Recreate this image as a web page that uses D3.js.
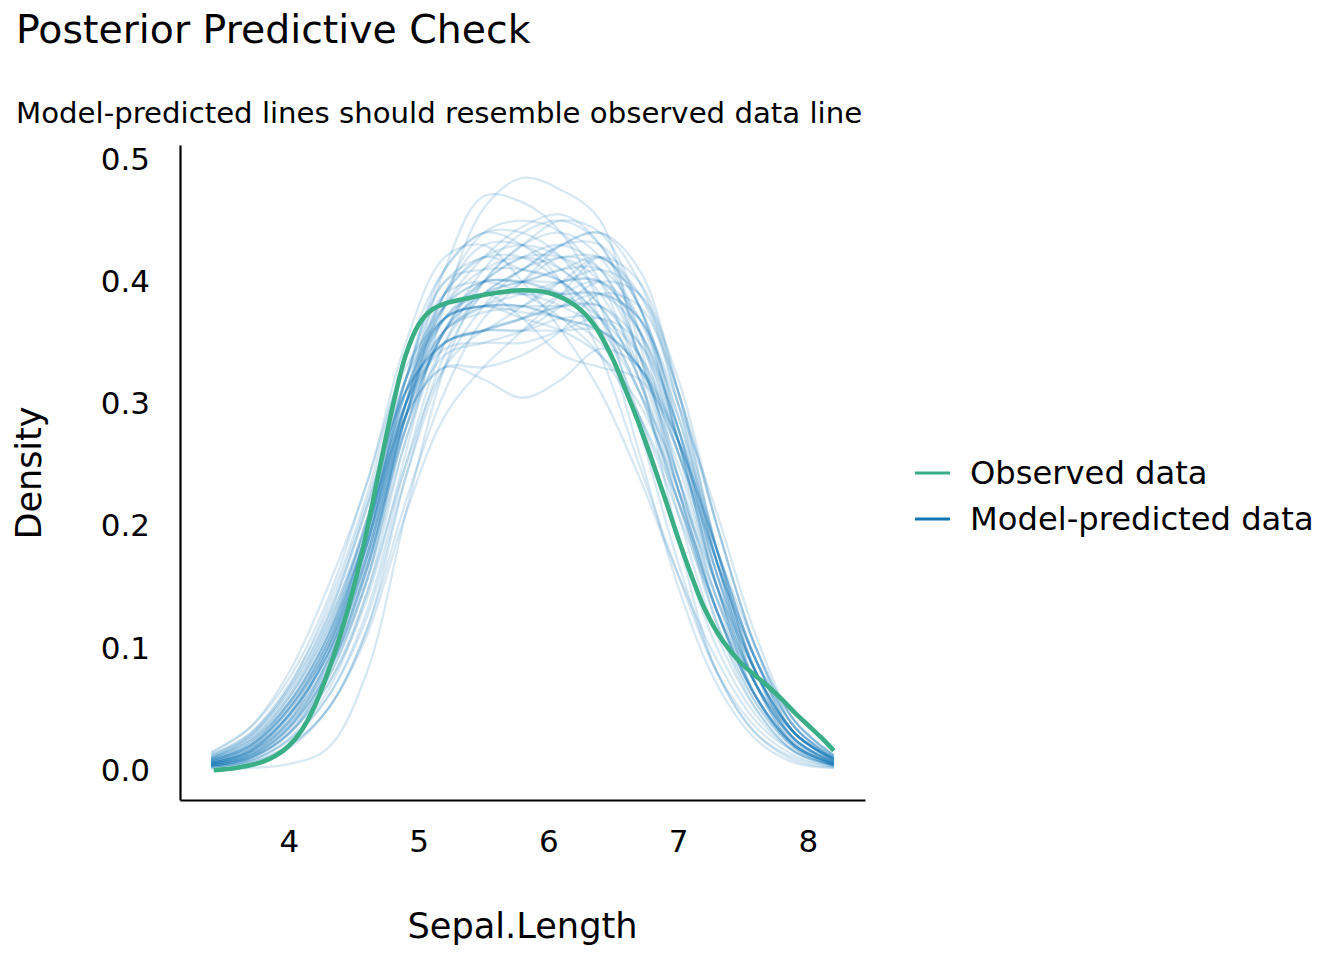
<!DOCTYPE html>
<html>
<head>
<meta charset="utf-8">
<script src="https://cdn.jsdelivr.net/npm/d3@7"></script>
<style>
  body { margin: 0; background: #fff; }
  text { font-family: "DejaVu Sans", sans-serif; fill: #000; }
</style>
</head>
<body>
<div id="chart"></div>
<script>
// x grid shared by every model-predicted density line
const gridX = [3.4, 3.7, 4.0, 4.3, 4.6, 4.9, 5.2, 5.5, 5.8, 6.1, 6.4, 6.7, 7.0, 7.3, 7.6, 7.9, 8.2];

const obsX = [3.42, 3.6, 3.8, 3.9, 4.0, 4.1, 4.2, 4.3, 4.4, 4.5, 4.6, 4.7, 4.8, 4.9, 5.0, 5.1, 5.2, 5.4, 5.6, 5.8, 6.0, 6.2, 6.35, 6.5, 6.6, 6.7, 6.8, 6.9, 7.0, 7.1, 7.2, 7.3, 7.4, 7.5, 7.6, 7.7, 7.8, 7.9, 8.0, 8.1, 8.2];
const obsY = [0.0, 0.002, 0.007, 0.012, 0.02, 0.033, 0.053, 0.08, 0.112, 0.15, 0.196, 0.248, 0.298, 0.34, 0.365, 0.377, 0.382, 0.387, 0.391, 0.393, 0.391, 0.381, 0.365, 0.336, 0.31, 0.283, 0.253, 0.222, 0.19, 0.16, 0.133, 0.113, 0.098, 0.086, 0.077, 0.068, 0.058, 0.047, 0.037, 0.027, 0.016];

// model-predicted densities, one row per draw
const predY = [
  [0.004,0.01,0.03,0.07,0.14,0.26,0.38,0.46,0.485,0.475,0.45,0.33,0.19,0.08,0.03,0.008,0.002],
  [0.004,0.01,0.03,0.08,0.16,0.3,0.41,0.47,0.465,0.44,0.38,0.28,0.17,0.08,0.03,0.01,0.003],
  [0.005,0.012,0.035,0.09,0.17,0.29,0.38,0.42,0.445,0.455,0.43,0.35,0.23,0.12,0.05,0.015,0.004],
  [0.006,0.015,0.04,0.10,0.185,0.30,0.36,0.375,0.38,0.40,0.42,0.38,0.28,0.16,0.07,0.025,0.007],
  [0.01,0.025,0.06,0.12,0.2,0.29,0.33,0.32,0.305,0.32,0.345,0.33,0.27,0.17,0.09,0.04,0.012],
  [0.008,0.02,0.055,0.11,0.195,0.31,0.37,0.38,0.38,0.37,0.36,0.33,0.27,0.18,0.10,0.04,0.012],
  [0.003,0.008,0.025,0.06,0.13,0.25,0.35,0.40,0.43,0.44,0.42,0.36,0.26,0.15,0.07,0.025,0.006],
  [0.012,0.03,0.07,0.13,0.22,0.32,0.37,0.38,0.37,0.36,0.34,0.30,0.23,0.15,0.08,0.03,0.01],
  [0.005,0.012,0.035,0.08,0.155,0.28,0.36,0.40,0.42,0.43,0.41,0.34,0.24,0.14,0.07,0.025,0.007],
  [0.004,0.01,0.03,0.075,0.155,0.29,0.38,0.40,0.40,0.39,0.39,0.37,0.29,0.17,0.07,0.02,0.005],
  [0.015,0.035,0.075,0.14,0.235,0.33,0.37,0.38,0.375,0.37,0.35,0.29,0.21,0.13,0.07,0.03,0.01],
  [0.006,0.016,0.045,0.095,0.185,0.31,0.39,0.42,0.41,0.40,0.37,0.31,0.22,0.13,0.06,0.022,0.006],
  [0.003,0.006,0.018,0.05,0.115,0.24,0.34,0.39,0.41,0.43,0.44,0.40,0.30,0.17,0.07,0.02,0.005],
  [0.008,0.02,0.05,0.105,0.195,0.32,0.40,0.42,0.42,0.40,0.37,0.31,0.22,0.13,0.06,0.02,0.006],
  [0.007,0.018,0.05,0.10,0.185,0.29,0.33,0.33,0.34,0.36,0.39,0.38,0.31,0.20,0.10,0.04,0.012],
  [0.01,0.024,0.055,0.11,0.205,0.32,0.38,0.39,0.39,0.38,0.36,0.31,0.24,0.15,0.08,0.03,0.01],
  [0.001,0.002,0.005,0.018,0.08,0.21,0.33,0.40,0.43,0.45,0.44,0.38,0.27,0.15,0.06,0.018,0.004],
  [0.005,0.013,0.038,0.085,0.165,0.28,0.36,0.40,0.40,0.41,0.41,0.37,0.27,0.15,0.07,0.025,0.007],
  [0.012,0.028,0.065,0.125,0.215,0.31,0.35,0.36,0.37,0.38,0.38,0.34,0.26,0.16,0.08,0.03,0.009],
  [0.004,0.011,0.035,0.08,0.165,0.29,0.39,0.44,0.45,0.44,0.40,0.32,0.21,0.11,0.05,0.015,0.004],
  [0.009,0.022,0.055,0.11,0.195,0.30,0.35,0.36,0.38,0.40,0.40,0.36,0.28,0.17,0.08,0.03,0.008],
  [0.006,0.015,0.042,0.09,0.175,0.29,0.36,0.38,0.39,0.40,0.40,0.36,0.27,0.16,0.08,0.03,0.008],
  [0.01,0.025,0.06,0.115,0.205,0.32,0.39,0.40,0.39,0.37,0.34,0.29,0.22,0.14,0.07,0.03,0.009],
  [0.003,0.008,0.026,0.065,0.145,0.27,0.36,0.39,0.40,0.40,0.41,0.39,0.31,0.18,0.08,0.025,0.006],
  [0.007,0.017,0.045,0.095,0.175,0.28,0.34,0.35,0.36,0.38,0.40,0.39,0.32,0.20,0.10,0.035,0.01],
  [0.004,0.01,0.032,0.075,0.155,0.27,0.35,0.39,0.41,0.43,0.43,0.38,0.27,0.15,0.06,0.02,0.005],
  [0.008,0.02,0.052,0.105,0.195,0.31,0.38,0.40,0.40,0.39,0.37,0.33,0.25,0.15,0.07,0.025,0.007],
  [0.005,0.012,0.036,0.082,0.165,0.29,0.37,0.39,0.39,0.39,0.39,0.36,0.28,0.17,0.08,0.03,0.008],
  [0.006,0.015,0.045,0.095,0.185,0.32,0.41,0.44,0.44,0.42,0.37,0.29,0.19,0.10,0.045,0.015,0.004],
  [0.011,0.027,0.063,0.12,0.205,0.31,0.35,0.36,0.36,0.37,0.37,0.34,0.27,0.18,0.09,0.035,0.01],
  [0.003,0.008,0.024,0.06,0.125,0.24,0.33,0.38,0.41,0.42,0.42,0.39,0.30,0.18,0.08,0.025,0.006],
  [0.007,0.018,0.046,0.10,0.185,0.30,0.37,0.38,0.38,0.38,0.38,0.35,0.27,0.17,0.08,0.03,0.008],
  [0.005,0.013,0.038,0.085,0.17,0.29,0.37,0.40,0.42,0.42,0.40,0.34,0.24,0.14,0.06,0.02,0.005],
  [0.009,0.022,0.055,0.11,0.195,0.31,0.37,0.38,0.38,0.37,0.36,0.33,0.26,0.17,0.09,0.035,0.01],
  [0.002,0.006,0.02,0.05,0.115,0.22,0.31,0.37,0.40,0.43,0.44,0.41,0.31,0.18,0.08,0.025,0.006],
  [0.006,0.016,0.045,0.095,0.18,0.30,0.38,0.41,0.42,0.41,0.38,0.32,0.23,0.13,0.06,0.02,0.005],
  [0.008,0.02,0.05,0.10,0.185,0.29,0.35,0.36,0.37,0.39,0.40,0.37,0.29,0.18,0.09,0.03,0.009],
  [0.004,0.011,0.034,0.08,0.165,0.28,0.36,0.39,0.40,0.41,0.42,0.38,0.28,0.16,0.07,0.022,0.005],
  [0.013,0.03,0.067,0.125,0.215,0.31,0.35,0.36,0.36,0.36,0.36,0.33,0.26,0.17,0.09,0.035,0.011],
  [0.005,0.013,0.04,0.088,0.175,0.30,0.39,0.42,0.43,0.42,0.39,0.33,0.23,0.13,0.06,0.02,0.005],
  [0.006,0.016,0.047,0.10,0.195,0.32,0.40,0.41,0.41,0.40,0.36,0.26,0.15,0.07,0.025,0.006,0.002],
  [0.004,0.01,0.03,0.07,0.145,0.25,0.33,0.36,0.37,0.38,0.39,0.37,0.30,0.21,0.11,0.04,0.012],
  [0.014,0.035,0.08,0.15,0.235,0.35,0.42,0.43,0.40,0.36,0.31,0.24,0.16,0.09,0.04,0.015,0.004],
  [0.01,0.028,0.068,0.135,0.225,0.34,0.41,0.44,0.43,0.40,0.34,0.25,0.16,0.08,0.035,0.012,0.003],
  [0.003,0.007,0.02,0.05,0.11,0.21,0.29,0.33,0.36,0.39,0.42,0.40,0.31,0.20,0.10,0.035,0.009],
  [0.007,0.018,0.05,0.105,0.19,0.30,0.36,0.38,0.40,0.42,0.41,0.34,0.23,0.13,0.06,0.02,0.005],
  [0.009,0.023,0.058,0.115,0.2,0.3,0.345,0.35,0.35,0.36,0.37,0.35,0.28,0.18,0.09,0.03,0.009],
  [0.005,0.014,0.04,0.09,0.175,0.30,0.39,0.43,0.43,0.41,0.38,0.32,0.22,0.12,0.055,0.018,0.004],
  [0.008,0.02,0.052,0.105,0.19,0.3,0.37,0.39,0.37,0.34,0.33,0.32,0.27,0.18,0.09,0.03,0.008],
  [0.006,0.015,0.044,0.095,0.18,0.29,0.36,0.41,0.44,0.45,0.43,0.36,0.24,0.13,0.055,0.018,0.004]
];

const xTicks = [4, 5, 6, 7, 8];
const yTicks = [0.0, 0.1, 0.2, 0.3, 0.4, 0.5];
const legendLabels = ["Observed data", "Model-predicted data"];
const colors = {obs: "#3aaf85", pred: "#0f77b7"};

const W = 1344, H = 960;
const margin = {top: 145, right: 479, bottom: 160, left: 180};

const svg = d3.select("#chart").append("svg")
    .attr("width", W)
    .attr("height", H);

const x = d3.scaleLinear()
    .domain([3.16, 8.44])
    .range([margin.left, W - margin.right]);
const y = d3.scaleLinear()
    .domain([-0.0244, 0.512])
    .range([H - margin.bottom, margin.top]);

const line = d3.line()
    .x(d => x(d[0]))
    .y(d => y(d[1]))
    .curve(d3.curveCatmullRom.alpha(0.5));

// model-predicted lines
svg.append("g")
    .selectAll("path")
    .data(predY)
    .join("path")
    .attr("d", row => line(row.map((v, i) => [gridX[i], v])))
    .attr("fill", "none")
    .attr("stroke", colors.pred)
    .attr("stroke-opacity", 0.17)
    .attr("stroke-width", 2.3);

// observed line
svg.append("path")
    .attr("d", line(obsX.map((v, i) => [v, obsY[i]])))
    .attr("fill", "none")
    .attr("stroke", colors.obs)
    .attr("stroke-width", 4.6);

// axes: lines only, no ticks
const xAxis = svg.append("g")
    .attr("transform", "translate(0," + (H - margin.bottom) + ")")
    .call(d3.axisBottom(x).tickValues(xTicks).tickSize(0).tickPadding(30).tickFormat(d3.format("d")));
const yAxis = svg.append("g")
    .attr("transform", "translate(" + margin.left + ",0)")
    .call(d3.axisLeft(y).tickValues(yTicks).tickSize(0).tickPadding(30).tickFormat(d3.format(".1f")));

[xAxis, yAxis].forEach(g => {
    g.select(".domain").attr("stroke", "#000").attr("stroke-width", 2.2);
    g.selectAll(".tick text")
        .style("font-family", "DejaVu Sans, sans-serif")
        .style("font-size", "31px")
        .attr("fill", "#000");
});

// titles
svg.append("text")
    .attr("x", 16).attr("y", 43)
    .style("font-size", "39.4px")
    .text("Posterior Predictive Check");
svg.append("text")
    .attr("x", 16).attr("y", 123)
    .style("font-size", "29.2px")
    .text("Model-predicted lines should resemble observed data line");

svg.append("text")
    .attr("x", (margin.left + W - margin.right) / 2)
    .attr("y", 938)
    .attr("text-anchor", "middle")
    .style("font-size", "35.2px")
    .text("Sepal.Length");
svg.append("text")
    .attr("transform", "translate(41," + 473 + ") rotate(-90)")
    .attr("text-anchor", "middle")
    .style("font-size", "35px")
    .text("Density");

// legend
const legend = svg.append("g")
    .attr("transform", "translate(915,473)");
const item = legend.selectAll("g")
    .data(legendLabels)
    .join("g")
    .attr("transform", (d, i) => "translate(0," + i * 46 + ")");
item.append("line")
    .attr("x1", 0).attr("x2", 35)
    .attr("stroke", (d, i) => i === 0 ? colors.obs : colors.pred)
    .attr("stroke-width", 3);
item.append("text")
    .attr("x", 55).attr("y", 11)
    .style("font-size", "32.2px")
    .text(d => d);
</script>
</body>
</html>
